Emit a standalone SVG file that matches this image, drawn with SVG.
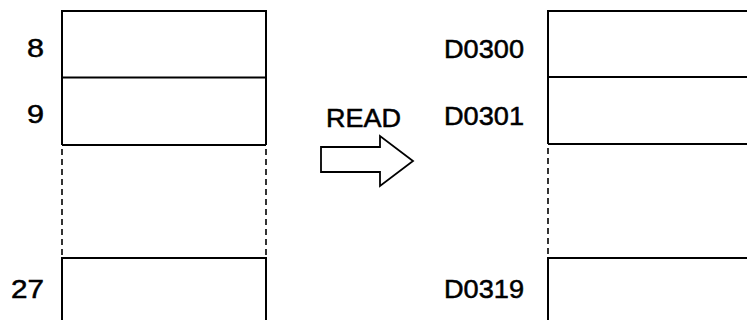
<svg xmlns="http://www.w3.org/2000/svg" width="747" height="320" viewBox="0 0 747 320">
<style>
.lbl{font-family:"Liberation Sans",Arial,sans-serif;font-size:25px;fill:#000;stroke:#000;stroke-width:0.5}
.ln{stroke:#000;stroke-width:2;fill:none}
.dash{stroke:#000;stroke-width:1.6;fill:none;stroke-dasharray:6 4}
</style>
<rect width="747" height="320" fill="#fff"/>
<g id="left-block">
<path class="ln" d="M62 145V11H266V145"/>
<path class="ln" d="M62 320V258H266V320"/>
<path class="ln" d="M62 77.5H266M62 145H266"/>
<path class="dash" d="M62 149V257M266 149V257"/>
</g>
<g id="right-block">
<path class="ln" d="M548 144V11H747"/>
<path class="ln" d="M548 320V258H747"/>
<path class="ln" d="M548 77H747M548 144H747"/>
<path class="dash" d="M548 148V257"/>
</g>
<g id="labels-left">
<text class="lbl" x="44" y="57" text-anchor="end" textLength="17" lengthAdjust="spacingAndGlyphs">8</text>
<text class="lbl" x="44" y="122.5" text-anchor="end" textLength="17" lengthAdjust="spacingAndGlyphs">9</text>
<text class="lbl" x="44" y="298" text-anchor="end" textLength="33" lengthAdjust="spacingAndGlyphs">27</text>
</g>
<g id="labels-right">
<text class="lbl" x="524" y="58" text-anchor="end" textLength="80" lengthAdjust="spacingAndGlyphs">D0300</text>
<text class="lbl" x="524" y="125" text-anchor="end" textLength="80" lengthAdjust="spacingAndGlyphs">D0301</text>
<text class="lbl" x="524" y="298" text-anchor="end" textLength="80" lengthAdjust="spacingAndGlyphs">D0319</text>
</g>
<g id="read-arrow">
<text class="lbl" x="326" y="127" textLength="75" lengthAdjust="spacingAndGlyphs">READ</text>
<path d="M321 147H380V136L413 161L380 186V172H321Z" fill="#fff" stroke="#000" stroke-width="1.8" stroke-linejoin="miter"/>
</g>
</svg>
